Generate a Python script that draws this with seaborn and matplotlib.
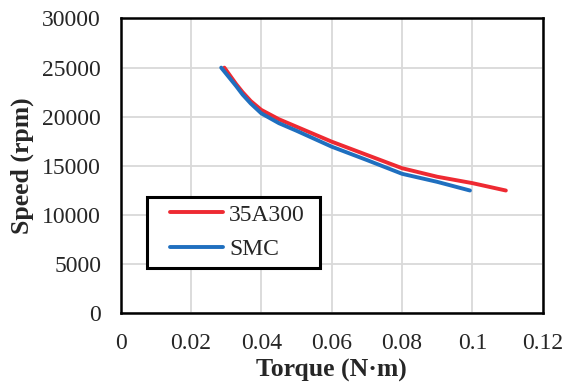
import matplotlib
matplotlib.use("Agg")
import matplotlib.pyplot as plt
from matplotlib.patches import Rectangle
import seaborn as sns
import pandas as pd

torque_35a300 = [0.0295, 0.0329, 0.0347, 0.037, 0.040, 0.045, 0.050, 0.060, 0.070, 0.080, 0.090, 0.100, 0.1095]
speed_35a300 = [25000, 23300, 22500, 21600, 20700, 19750, 18990, 17470, 16120, 14770, 13900, 13250, 12500]
torque_smc = [0.0286, 0.0329, 0.0347, 0.037, 0.040, 0.045, 0.050, 0.060, 0.070, 0.080, 0.090, 0.0993]
speed_smc = [25000, 23100, 22250, 21350, 20350, 19350, 18580, 16960, 15600, 14200, 13380, 12500]
series_names = ["35A300", "SMC"]
x_ticks = [0, 0.02, 0.04, 0.06, 0.08, 0.1, 0.12]
x_tick_labels = ["0", "0.02", "0.04", "0.06", "0.08", "0.1", "0.12"]
y_ticks = [0, 5000, 10000, 15000, 20000, 25000, 30000]

df = pd.concat([
    pd.DataFrame({"Torque": torque_35a300, "Speed": speed_35a300, "Material": series_names[0]}),
    pd.DataFrame({"Torque": torque_smc, "Speed": speed_smc, "Material": series_names[1]}),
])

sns.set_style("white")
plt.rcParams["font.family"] = ["Liberation Serif", "DejaVu Serif"]

fig = plt.figure(figsize=(5.66, 3.85), dpi=100)
ax = fig.add_axes([0.213, 0.186, 0.746, 0.766])

palette = {"35A300": "#ee2a32", "SMC": "#1f6fbf"}
sns.lineplot(data=df, x="Torque", y="Speed", hue="Material", palette=palette,
             sort=False, linewidth=2.8, ax=ax, estimator=None)
for ln in ax.get_lines():
    ln.set_solid_capstyle("round")
    ln.set_solid_joinstyle("round")

ax.set_xlim(0, 0.12)
ax.set_ylim(0, 30000)
ax.set_xticks(x_ticks)
ax.set_xticklabels(x_tick_labels)
ax.set_yticks(y_ticks)
ax.grid(True, color="#d9d9d9", linewidth=1.3)
ax.set_axisbelow(True)
for s in ax.spines.values():
    s.set_color("black")
    s.set_linewidth(1.8)
ax.tick_params(axis="both", length=0, labelsize=17)
ax.tick_params(axis="x", pad=14)
ax.tick_params(axis="y", pad=14)
ax.set_xlabel("Torque (N·m)", fontsize=18.5, fontweight="bold", labelpad=4)
ax.set_ylabel("Speed (rpm)", fontsize=18.5, fontweight="bold", labelpad=6)

# legend box drawn as a rectangle in axes coordinates
ax.add_patch(Rectangle((0.063, 0.153), 0.41, 0.24, transform=ax.transAxes,
                       facecolor="white", edgecolor="black", linewidth=2.2,
                       zorder=4, clip_on=False))
leg = ax.legend(loc="center left", bbox_to_anchor=(0.117, 0.276), fontsize=17,
                frameon=False, handlelength=2.25, handletextpad=0.25,
                borderpad=0, labelspacing=0.55, borderaxespad=0)
leg.set_zorder(5)
for h in leg.get_lines():
    h.set_linewidth(2.8)

fig.savefig("out.png", dpi=100)
